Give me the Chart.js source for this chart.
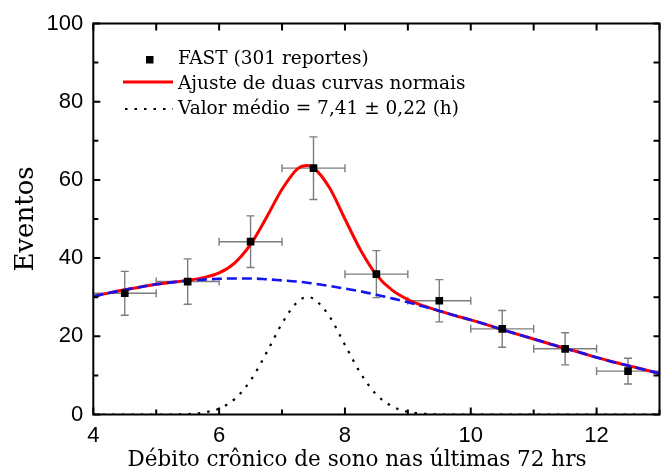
<!DOCTYPE html>
<html>
<head>
<meta charset="utf-8">
<script src="https://cdn.jsdelivr.net/npm/chart.js@4/dist/chart.umd.min.js"></script>
<style>
  html, body { margin: 0; padding: 0; background: #fff; }
</style>
</head>
<body>
<canvas id="c" width="668" height="476"></canvas>
<script>
// measured points (bin centres) with their error bars
const pointX = [4.5, 5.5, 6.5, 7.5, 8.5, 9.5, 10.5, 11.5, 12.5];
const pointY = [31.0, 34.0, 44.2, 63.0, 35.9, 29.1, 21.9, 16.8, 11.1];
const pointErrY = [5.6, 5.8, 6.6, 8.0, 6.0, 5.4, 4.7, 4.1, 3.3];
const pointErrX = [0.5, 0.5, 0.5, 0.5, 0.5, 0.5, 0.5, 0.5, 0.5];

// fit curves
const curveX = [4, 4.25, 4.5, 4.75, 5, 5.25, 5.5, 5.75, 6, 6.25, 6.5, 6.75, 7, 7.25, 7.4, 7.5, 7.75, 8, 8.25, 8.5,
  8.75, 9, 9.25, 9.5, 9.75, 10, 10.25, 10.5, 10.75, 11, 11.25, 11.5, 11.75, 12, 12.25, 12.5, 12.75, 13];
const fitTotal = [30.2, 31.1, 31.9, 32.6, 33.3, 33.8, 34.3, 35.0, 36.2, 38.8, 43.5, 50.3, 57.6, 62.9, 63.7, 63.1, 58.1, 50.0, 42.0, 35.7,
  31.8, 29.4, 27.8, 26.5, 25.3, 24.2, 23.0, 21.7, 20.5, 19.3, 18.1, 16.9, 15.8, 14.6, 13.5, 12.5, 11.5, 10.5];
const fitBroad = [30.2, 31.1, 31.9, 32.6, 33.3, 33.8, 34.2, 34.5, 34.7, 34.8, 34.8, 34.6, 34.3, 34.0, 33.7, 33.5, 32.9, 32.2, 31.5, 30.6,
  29.7, 28.7, 27.6, 26.5, 25.3, 24.2, 23.0, 21.7, 20.5, 19.3, 18.1, 16.9, 15.8, 14.6, 13.5, 12.5, 11.5, 10.5];
const fitNarrow = [0, 0, 0, 0, 0, 0, 0.1, 0.5, 1.5, 4.0, 8.7, 15.7, 23.3, 28.9, 30.0, 29.6, 25.2, 17.8, 10.5, 5.1,
  2.1, 0.7, 0.2, 0, 0, 0, 0, 0, 0, 0, 0, 0, 0, 0, 0, 0, 0, 0];

const xTickValues = [4, 6, 8, 10, 12];
const yTickValues = [0, 20, 40, 60, 80, 100];

const labelPoints = 'FAST (301 reportes)';
const labelTotal = 'Ajuste de duas curvas normais';
const labelNarrow = 'Valor médio = 7,41 ± 0,22 (h)';
const xTitle = 'Débito crônico de sono nas últimas 72 hrs';

const xy = (xs, ys) => xs.map((x, i) => ({ x, y: ys[i] }));

const serif = 'DejaVu Serif';
const sans = 'Liberation Sans';

// error bars under the curves
const errorBars = {
  id: 'errorBars',
  beforeDatasetsDraw(chart) {
    const { ctx, scales: { x, y } } = chart;
    const cap = 4;
    ctx.save();
    ctx.strokeStyle = '#7d7d7d';
    ctx.lineWidth = 1.4;
    pointX.forEach((px, i) => {
      const cx = x.getPixelForValue(px);
      const cy = y.getPixelForValue(pointY[i]);
      const x0 = x.getPixelForValue(px - pointErrX[i]);
      const x1 = x.getPixelForValue(px + pointErrX[i]);
      const y0 = y.getPixelForValue(pointY[i] - pointErrY[i]);
      const y1 = y.getPixelForValue(pointY[i] + pointErrY[i]);
      ctx.beginPath();
      ctx.moveTo(x0, cy); ctx.lineTo(x1, cy);
      ctx.moveTo(x0, cy - cap); ctx.lineTo(x0, cy + cap);
      ctx.moveTo(x1, cy - cap); ctx.lineTo(x1, cy + cap);
      ctx.moveTo(cx, y0); ctx.lineTo(cx, y1);
      ctx.moveTo(cx - cap, y0); ctx.lineTo(cx + cap, y0);
      ctx.moveTo(cx - cap, y1); ctx.lineTo(cx + cap, y1);
      ctx.stroke();
    });
    ctx.restore();
  }
};

// box, inward ticks, x title and the legend
const frame = {
  id: 'frame',
  afterDatasetsDraw(chart) {
    const { ctx, chartArea: a, scales: { x, y } } = chart;
    ctx.save();
    ctx.strokeStyle = '#000';
    ctx.lineWidth = 2;
    ctx.strokeRect(a.left, a.top, a.right - a.left, a.bottom - a.top);
    ctx.beginPath();
    for (let v = x.min; v <= x.max; v++) {
      const px = x.getPixelForValue(v);
      const len = v % 2 === 0 ? 7 : 5;
      ctx.moveTo(px, a.bottom); ctx.lineTo(px, a.bottom - len);
      ctx.moveTo(px, a.top); ctx.lineTo(px, a.top + 7);
    }
    for (let v = y.min; v <= y.max; v += 10) {
      const py = y.getPixelForValue(v);
      const len = v % 20 === 0 ? 7 : 5;
      ctx.moveTo(a.left, py); ctx.lineTo(a.left + len, py);
      ctx.moveTo(a.right, py); ctx.lineTo(a.right - 6, py);
    }
    ctx.stroke();

    ctx.fillStyle = '#000';
    ctx.textBaseline = 'middle';
    ctx.textAlign = 'center';
    ctx.font = '21.5px "' + serif + '"';
    ctx.fillText(xTitle, 357, 460);

    // legend
    const sx0 = 123, sx1 = 173, tx = 178;
    ctx.fillRect(146, 56, 7.5, 7.5);
    ctx.strokeStyle = '#ff0000';
    ctx.lineWidth = 3;
    ctx.beginPath(); ctx.moveTo(sx0, 82); ctx.lineTo(sx1, 82); ctx.stroke();
    ctx.strokeStyle = '#000';
    ctx.lineWidth = 2.2;
    ctx.setLineDash([2.5, 7]);
    ctx.beginPath(); ctx.moveTo(sx0 + 2, 109); ctx.lineTo(sx1, 109); ctx.stroke();
    ctx.setLineDash([]);
    ctx.font = '18.5px "' + serif + '"';
    ctx.textAlign = 'left';
    ctx.fillText(labelPoints, tx, 59);
    ctx.fillText(labelTotal, tx, 84);
    ctx.fillText(labelNarrow, tx, 109);
    ctx.restore();
  }
};

const chart = new Chart(document.getElementById('c'), {
  type: 'line',
  data: {
    datasets: [
      {
        label: labelPoints,
        data: xy(pointX, pointY),
        showLine: false,
        pointStyle: 'rect',
        pointRadius: 5.4,
        pointBackgroundColor: '#000',
        pointBorderWidth: 0,
        order: 0
      },
      {
        label: labelNarrow,
        data: xy(curveX, fitNarrow),
        borderColor: '#000',
        borderWidth: 2.2,
        borderDash: [2.5, 7],
        pointRadius: 0,
        cubicInterpolationMode: 'monotone',
        order: 1
      },
      {
        label: 'broad',
        data: xy(curveX, fitBroad),
        borderColor: '#1414f0',
        borderWidth: 2.6,
        borderDash: [10, 5],
        pointRadius: 0,
        cubicInterpolationMode: 'monotone',
        order: 2
      },
      {
        label: labelTotal,
        data: xy(curveX, fitTotal),
        borderColor: '#ff0000',
        borderWidth: 3,
        pointRadius: 0,
        cubicInterpolationMode: 'monotone',
        order: 3
      }
    ]
  },
  options: {
    responsive: false,
    animation: false,
    devicePixelRatio: 1,
    layout: { padding: { left: 0, top: 23.5, right: 8.5, bottom: 0 } },
    plugins: { legend: { display: false }, tooltip: { enabled: false } },
    scales: {
      x: {
        type: 'linear',
        min: 4,
        max: 13,
        grid: { display: false, drawTicks: false },
        border: { display: false },
        afterBuildTicks: s => { s.ticks = xTickValues.map(v => ({ value: v })); },
        afterFit: s => { s.height = 61.5; },
        ticks: {
          includeBounds: false, autoSkip: false, maxRotation: 0, padding: 8,
          color: '#000', font: { family: sans, size: 22 }
        }
      },
      y: {
        min: 0,
        max: 100,
        grid: { display: false, drawTicks: false },
        border: { display: false },
        afterBuildTicks: s => { s.ticks = yTickValues.map(v => ({ value: v })); },
        afterFit: s => { s.width = 93.3; },
        ticks: { padding: 10, color: '#000', font: { family: sans, size: 22 } },
        title: {
          display: true, text: 'Eventos',
          color: '#000', font: { family: serif, size: 26 }, padding: { top: 11, bottom: 0 }
        }
      }
    }
  },
  plugins: [errorBars, frame]
});
</script>
</body>
</html>
